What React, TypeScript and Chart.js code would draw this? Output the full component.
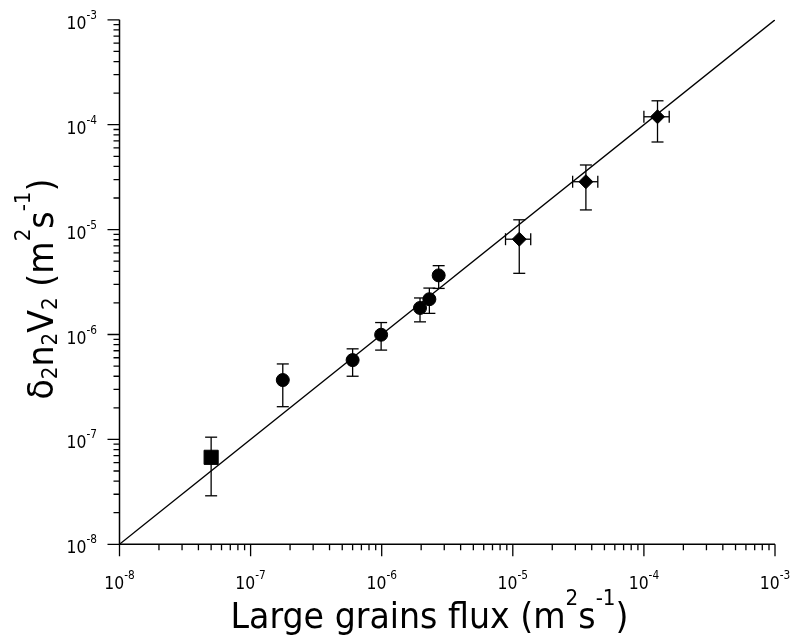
import React, { useEffect, useRef } from "react";
import { Chart, registerables } from "chart.js";
Chart.register(...registerables);

// ---- data ----
const circleX = [1.76e-7, 6.0e-7, 9.9e-7, 1.96e-6, 2.31e-6, 2.72e-6];
const circleY = [3.68e-7, 5.7e-7, 9.95e-7, 1.79e-6, 2.17e-6, 3.66e-6];
const circleYHi = [5.24e-7, 7.3e-7, 1.3e-6, 2.23e-6, 2.77e-6, 4.53e-6];
const circleYLo = [2.05e-7, 4.0e-7, 7.1e-7, 1.32e-6, 1.59e-6, 2.75e-6];

const squareX = [5.0e-8];
const squareY = [6.75e-8];
const squareYHi = [1.05e-7];
const squareYLo = [2.9e-8];

const diamondX = [1.12e-5, 3.61e-5, 1.27e-4];
const diamondY = [8.1e-6, 2.86e-5, 1.19e-4];
const diamondYHi = [1.24e-5, 4.13e-5, 1.69e-4];
const diamondYLo = [3.83e-6, 1.54e-5, 6.84e-5];
const diamondXLo = [8.8e-6, 2.86e-5, 1.0e-4];
const diamondXHi = [1.37e-5, 4.45e-5, 1.56e-4];

const fitX = [1e-8, 1e-3];
const fitY = [1e-8, 1e-3];

const decadeExponents = [-8, -7, -6, -5, -4, -3];
const tickLabelsBase = "10";
const minorMultipliers = [2, 3, 4, 5, 6, 7, 8, 9];

const FONT = "'DejaVu Sans', 'Liberation Sans', sans-serif";

type Seg = { t: string; k: "n" | "sup" | "sub" };
const xTitle: Seg[] = [
  { t: "Large grains flux (m", k: "n" },
  { t: "2", k: "sup" },
  { t: "s", k: "n" },
  { t: "-1", k: "sup" },
  { t: ")", k: "n" },
];
const yTitle: Seg[] = [
  { t: "\u03b4", k: "n" },
  { t: "2", k: "sub" },
  { t: "n", k: "n" },
  { t: "2", k: "sub" },
  { t: "V", k: "n" },
  { t: "2", k: "sub" },
  { t: " (m", k: "n" },
  { t: "2", k: "sup" },
  { t: "s", k: "n" },
  { t: "-1", k: "sup" },
  { t: ")", k: "n" },
];

type RichStyle = { size: number; small: number; raise: number; drop: number; sx: number };

function segFont(k: string, st: RichStyle) {
  const s = k === "n" ? st.size : st.small;
  return `${s}px ${FONT}`;
}

function measureRich(ctx: CanvasRenderingContext2D, segs: Seg[], st: RichStyle) {
  let w = 0;
  for (const s of segs) {
    ctx.font = segFont(s.k, st);
    w += ctx.measureText(s.t).width;
  }
  return w * st.sx;
}

function drawRich(ctx: CanvasRenderingContext2D, segs: Seg[], st: RichStyle, x: number, y: number) {
  ctx.save();
  ctx.translate(x, y);
  ctx.scale(st.sx, 1);
  let cx = 0;
  ctx.textBaseline = "alphabetic";
  ctx.textAlign = "left";
  for (const s of segs) {
    ctx.font = segFont(s.k, st);
    const dy = s.k === "sup" ? -st.raise : s.k === "sub" ? st.drop : 0;
    ctx.fillText(s.t, cx, dy);
    cx += ctx.measureText(s.t).width;
  }
  ctx.restore();
}

const tickStyle: RichStyle = { size: 17, small: 11.5, raise: 10, drop: 0, sx: 0.92 };
const titleStyle: RichStyle = { size: 35, small: 21, raise: 23, drop: 4, sx: 0.95 };

const axesPlugin = {
  id: "customAxes",
  beforeDatasetsDraw(chart: any) {
    const ctx: CanvasRenderingContext2D = chart.ctx;
    const xs = chart.scales.x;
    const ys = chart.scales.y;
    ctx.save();
    ctx.strokeStyle = "#000";
    ctx.lineWidth = 1.3;
    const bar = (x1: number, y1: number, x2: number, y2: number) => {
      ctx.beginPath();
      ctx.moveTo(x1, y1);
      ctx.lineTo(x2, y2);
      ctx.stroke();
    };
    const cap = 6;
    const vErr = (xv: number[], lo: number[], hi: number[]) => {
      xv.forEach((v, i) => {
        const px = xs.getPixelForValue(v);
        const pLo = ys.getPixelForValue(lo[i]);
        const pHi = ys.getPixelForValue(hi[i]);
        bar(px, pLo, px, pHi);
        bar(px - cap, pLo, px + cap, pLo);
        bar(px - cap, pHi, px + cap, pHi);
      });
    };
    vErr(circleX, circleYLo, circleYHi);
    vErr(squareX, squareYLo, squareYHi);
    vErr(diamondX, diamondYLo, diamondYHi);
    diamondY.forEach((v, i) => {
      const py = ys.getPixelForValue(v);
      const pLo = xs.getPixelForValue(diamondXLo[i]);
      const pHi = xs.getPixelForValue(diamondXHi[i]);
      bar(pLo, py, pHi, py);
      bar(pLo, py - cap, pLo, py + cap);
      bar(pHi, py - cap, pHi, py + cap);
    });
    ctx.restore();
  },
  afterDraw(chart: any) {
    const ctx: CanvasRenderingContext2D = chart.ctx;
    const xs = chart.scales.x;
    const ys = chart.scales.y;
    const area = chart.chartArea;
    ctx.save();
    ctx.strokeStyle = "#000";
    ctx.fillStyle = "#000";
    ctx.lineWidth = 1.5;
    // axis lines
    ctx.beginPath();
    ctx.moveTo(area.left, area.top);
    ctx.lineTo(area.left, area.bottom);
    ctx.lineTo(area.right, area.bottom);
    ctx.stroke();
    const major = 12;
    const minor = 6;
    ctx.lineWidth = 1.3;
    decadeExponents.forEach((e, idx) => {
      const v = Math.pow(10, e);
      const px = xs.getPixelForValue(v);
      const py = ys.getPixelForValue(v);
      ctx.beginPath();
      ctx.moveTo(px, area.bottom);
      ctx.lineTo(px, area.bottom + major);
      ctx.moveTo(area.left, py);
      ctx.lineTo(area.left - major, py);
      ctx.stroke();
      if (idx < decadeExponents.length - 1) {
        minorMultipliers.forEach((m) => {
          const mv = m * v;
          const mx = xs.getPixelForValue(mv);
          const my = ys.getPixelForValue(mv);
          ctx.beginPath();
          ctx.moveTo(mx, area.bottom);
          ctx.lineTo(mx, area.bottom + minor);
          ctx.moveTo(area.left, my);
          ctx.lineTo(area.left - minor, my);
          ctx.stroke();
        });
      }
      // tick labels
      const segs: Seg[] = [
        { t: tickLabelsBase, k: "n" },
        { t: String(e), k: "sup" },
      ];
      const w = measureRich(ctx, segs, tickStyle);
      drawRich(ctx, segs, tickStyle, px - w / 2, area.bottom + 44.5);
      drawRich(ctx, segs, tickStyle, area.left - 22.5 - w, py + 9);
    });
    // x title
    const wx = measureRich(ctx, xTitle, titleStyle);
    drawRich(ctx, xTitle, titleStyle, 429.5 - wx / 2, area.bottom + 83.7);
    // y title
    const wy = measureRich(ctx, yTitle, titleStyle);
    ctx.translate(53, 289);
    ctx.rotate(-Math.PI / 2);
    drawRich(ctx, yTitle, titleStyle, -wy / 2, 0);
    ctx.restore();
  },
};

export default function App() {
  const ref = useRef<HTMLCanvasElement | null>(null);
  useEffect(() => {
    if (!ref.current) return;
    const toPts = (xs: number[], ys: number[]) => xs.map((x, i) => ({ x, y: ys[i] }));
    const chart = new Chart(ref.current, {
      type: "scatter",
      data: {
        datasets: [
          {
            data: toPts(fitX, fitY),
            showLine: true,
            borderColor: "#000",
            borderWidth: 1.3,
            pointRadius: 0,
          },
          {
            data: toPts(circleX, circleY),
            pointStyle: "circle",
            pointRadius: 6.5,
            backgroundColor: "#000",
            borderColor: "#000",
            borderWidth: 1,
          },
          {
            data: toPts(squareX, squareY),
            pointStyle: "rect",
            pointRadius: 10,
            backgroundColor: "#000",
            borderColor: "#000",
            borderWidth: 1,
          },
          {
            data: toPts(diamondX, diamondY),
            pointStyle: "rectRot",
            pointRadius: 7,
            backgroundColor: "#000",
            borderColor: "#000",
            borderWidth: 1,
          },
        ] as any,
      },
      options: {
        animation: false,
        responsive: false,
        layout: { padding: { left: 119.5, right: 18, top: 19.8, bottom: 96.7 } },
        plugins: { legend: { display: false }, tooltip: { enabled: false } },
        scales: {
          x: { type: "logarithmic", min: 1e-8, max: 1e-3, display: false },
          y: { type: "logarithmic", min: 1e-8, max: 1e-3, display: false },
        },
      },
      plugins: [axesPlugin],
    });
    return () => chart.destroy();
  }, []);
  return (
    <div style={{ position: "absolute", left: 0, top: 0, width: 793, height: 641, background: "#fff" }}>
      <canvas ref={ref} width={793} height={641} style={{ display: "block" }} />
    </div>
  );
}
